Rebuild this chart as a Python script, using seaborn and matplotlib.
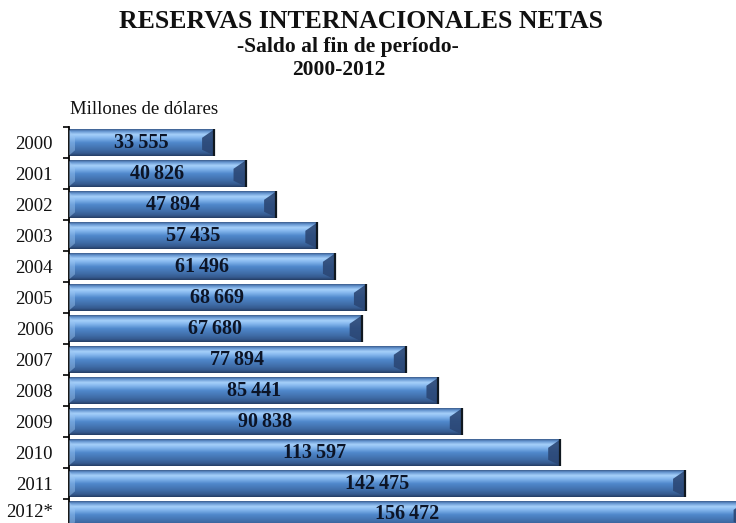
import numpy as np
import pandas as pd
import matplotlib
matplotlib.use("Agg")
import matplotlib.pyplot as plt
from matplotlib.colors import LinearSegmentedColormap
from matplotlib.patches import Polygon
from matplotlib.transforms import ScaledTranslation
import seaborn as sns

# Reservas internacionales netas, saldo al fin de período (millones de dólares)
anios = ["2000", "2001", "2002", "2003", "2004", "2005", "2006",
         "2007", "2008", "2009", "2010", "2011", "2012*"]
reservas = [33555, 40826, 47894, 57435, 61496, 68669, 67680,
            77894, 85441, 90838, 113597, 142475, 156472]

titulo = "RESERVAS INTERNACIONALES NETAS"
subtitulo = "-Saldo al fin de período-"
periodo = "2000-2012"
unidad = "Millones de dólares"

sns.set_theme(style="white")
plt.rcParams["font.family"] = ["Liberation Serif", "DejaVu Serif"]

df = pd.DataFrame({"anio": anios, "valor": reservas})

fig = plt.figure(figsize=(7.36, 5.23), dpi=100)
ax = fig.add_axes([69 / 736, -7 / 523, 1 - 69 / 736, (530 - 127) / 523])

sns.barplot(data=df, x="valor", y="anio", orient="h", width=0.84,
            color="#4f86c8", saturation=1, ax=ax, edgecolor="none")

ax.set_xlim(0, 154255)
ax.set_ylim(len(anios) - 0.5, -0.5)

# vertical shading for a bevelled, glossy look
grad = LinearSegmentedColormap.from_list("bevel", [
    (0.00, "#3a5a88"),
    (0.07, "#5f8fcb"),
    (0.20, "#a6d0fa"),
    (0.32, "#86b8ee"),
    (0.50, "#5089cc"),
    (0.75, "#406ea9"),
    (0.90, "#355a8e"),
    (1.00, "#243c63"),
])
col = np.linspace(0, 1, 256).reshape(-1, 1)

px_per_unit = ax.get_window_extent().width / (ax.get_xlim()[1] - ax.get_xlim()[0])
cap = 12 / px_per_unit  # right end cap depth in data units
lcap = 6 / px_per_unit

for patch in list(ax.patches):
    x0, y0 = patch.get_x(), patch.get_y()
    w, h = patch.get_width(), patch.get_height()
    x1, y1 = x0 + w, y0 + h
    im = ax.imshow(col, cmap=grad, aspect="auto", extent=[x0, x1, y1, y0],
                   interpolation="bilinear", zorder=2)
    im.set_clip_path(patch)
    # darker right end facet
    ax.add_patch(Polygon([(x1 - cap, y0 + 0.32 * h), (x1, y0), (x1, y1),
                          (x1 - cap, y1 - 0.22 * h)],
                         closed=True, facecolor="#2b4775", edgecolor="none",
                         alpha=0.9, zorder=3))
    ax.plot([x1, x1], [y0, y1], color="#101820", lw=1.6, zorder=4,
            solid_capstyle="butt")
    # lighter left end facet
    ax.add_patch(Polygon([(x0, y0), (x0 + lcap, y0 + 0.3 * h),
                          (x0 + lcap, y1 - 0.2 * h), (x0, y1)],
                         closed=True, facecolor="#9cc6f2", edgecolor="none",
                         alpha=0.45, zorder=3))

for i, v in enumerate(reservas):
    etiqueta = f"{v:,}".replace(",", "\u2009")
    ax.text(v / 2, i + 0.03 if i < len(reservas) - 1 else i - 0.02, etiqueta,
            ha="center", va="center",
            fontsize=14.5, fontweight="bold", color="#0c1426", zorder=5)

ax.set_xlabel("")
ax.set_ylabel("")
ax.set_xticks([])
ax.set_yticks(range(len(anios)))
ax.set_yticklabels(anios, fontsize=13.5, color="#111111")
ax.set_yticks(np.arange(-0.5, len(anios), 1), minor=True)
ax.tick_params(axis="y", which="major", length=0, pad=11.5)
ax.tick_params(axis="y", which="minor", length=4, width=1.2, color="black",
               direction="out", left=True)
# keep the bottom year label inside the figure
ultimo = ax.get_yticklabels()[-1]
ultimo.set_transform(ultimo.get_transform()
                     + ScaledTranslation(0, 3 / 72, fig.dpi_scale_trans))
for s in ["top", "right", "bottom"]:
    ax.spines[s].set_visible(False)
ax.spines["left"].set_color("black")
ax.spines["left"].set_linewidth(1.3)
ax.set_facecolor("white")

fig.text(361 / 736, 1 - 21 / 523, titulo, ha="center", va="center",
         fontsize=18.5, fontweight="bold", color="#111111")
fig.text(348 / 736, 1 - 47 / 523, subtitulo, ha="center", va="center",
         fontsize=15.5, fontweight="bold", color="#111111")
fig.text(339 / 736, 1 - 70 / 523, periodo, ha="center", va="center",
         fontsize=15.5, fontweight="bold", color="#111111")
fig.text(70 / 736, 1 - 109 / 523, unidad, ha="left", va="center",
         fontsize=13.5, color="#111111")

fig.savefig("out.png", dpi=100, facecolor="white")
